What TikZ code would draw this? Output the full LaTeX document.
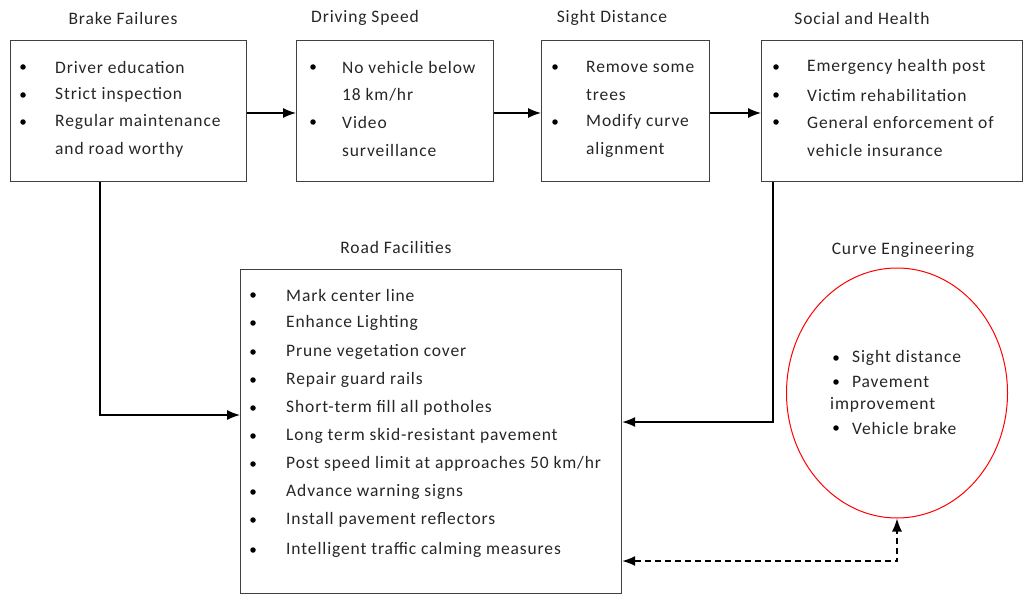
\documentclass[tikz,border=0pt]{standalone}
\usepackage{fontspec}
\setmainfont{Carlito}[LetterSpace=5]
\usetikzlibrary{arrows.meta,shapes.geometric}
\begin{document}
\begin{tikzpicture}[x=1pt,y=-1pt,
  box/.style={draw=black!75,line width=1.2pt,rectangle,inner sep=0pt,anchor=north west},
  ttl/.style={font=\fontsize{17.5}{20}\selectfont,text=black!85},
  itm/.style={font=\fontsize{17.5}{20}\selectfont,anchor=west,inner sep=0pt,text=black!85},
  bul/.style={circle,fill=black,inner sep=0pt,minimum size=5.5pt},
  conn/.style={line width=1.4pt,-{Latex[length=13pt,width=10pt]}},
  dconn/.style={line width=1.4pt,dash pattern=on 6pt off 4pt,{Latex[length=13pt,width=10pt]}-{Latex[length=13pt,width=10pt]}}]
\useasboundingbox (0,0) rectangle (1026,594);
% boxes
\node[box,minimum width=236pt,minimum height=141pt] (b1) at (10,40) {};
\node[box,minimum width=197pt,minimum height=141pt] (b2) at (296,40) {};
\node[box,minimum width=168pt,minimum height=141pt] (b3) at (541,40) {};
\node[box,minimum width=261pt,minimum height=141pt] (b4) at (761,40) {};
\node[box,minimum width=381pt,minimum height=324pt] (rf) at (240,269) {};
\node[draw=red,line width=1pt,ellipse,minimum width=221pt,minimum height=250pt] (ce) at (897,393) {};
% titles
\node[ttl] (t1) at (123,18) {Brake Failures};
\node[ttl] (t2) at (365,18) {Driving Speed};
\node[ttl] (t3) at (612,18) {Sight Distance};
\node[ttl] (t4) at (862,18) {Social and Health};
\node[ttl] (t5) at (396,247) {Road Facilities};
\node[ttl] (t6) at (903,250) {Curve Engineering};
% box 1
\foreach \yy/\tx [count=\i] in {67/Driver education,95/Strict inspection,122/Regular maintenance}{
  \node[bul] (b1b\i) at (23,\yy) {};
  \node[itm] (b1t\i) at (55,\yy) {\tx};}
\node[itm] (b1t4) at (55,150) {and road worthy};
% box 2
\node[bul] (b2b1) at (313,67) {};
\node[itm] (b2t1) at (342,67) {No vehicle below};
\node[itm] (b2t2) at (342,95) {18 km/hr};
\node[bul] (b2b2) at (313,122) {};
\node[itm] (b2t3) at (342,122) {Video};
\node[itm] (b2t4) at (342,150) {surveillance};
% box 3
\node[bul] (b3b1) at (555,67) {};
\node[itm] (b3t1) at (586,67) {Remove some};
\node[itm] (b3t2) at (586,95) {trees};
\node[bul] (b3b2) at (555,122) {};
\node[itm] (b3t3) at (586,122) {Modify curve};
\node[itm] (b3t4) at (586,150) {alignment};
% box 4
\foreach \yy/\tx [count=\i] in {67/Emergency health post,95/Victim rehabilitation,122/General enforcement of}{
  \node[bul] (b4b\i) at (776,\yy) {};
  \node[itm] (b4t\i) at (807,\yy) {\tx};}
\node[itm] (b4t4) at (807,150) {vehicle insurance};
% road facilities
\foreach \yy/\tx [count=\i] in {295/{Mark center line},323/{Enhance Lighting},352/{Prune vegetation cover},380/{Repair guard rails},408/{Short-term fill all potholes},436/{Long term skid-resistant pavement},464/{Post speed limit at approaches 50 km/hr},492/{Advance warning signs},520/{Install pavement reflectors},550/{Intelligent traffic calming measures}}{
  \node[bul] (rfb\i) at (253,\yy) {};
  \node[itm] (rft\i) at (286,\yy) {\tx};}
% curve engineering
\node[bul] (ceb1) at (836,358) {};
\node[itm] (cet1) at (852,358) {Sight distance};
\node[bul] (ceb2) at (836,382) {};
\node[itm] (cet2) at (852,382) {Pavement};
\node[itm] (cet3) at (830,405) {improvement};
\node[bul] (ceb3) at (836,428) {};
\node[itm] (cet4) at (852,428) {Vehicle brake};
% connectors
\draw[conn] (b1.east |- 0,113) -- (b2.west |- 0,113);
\draw[conn] (b2.east |- 0,113) -- (b3.west |- 0,113);
\draw[conn] (b3.east |- 0,113) -- (b4.west |- 0,113);
\draw[conn] (b1.south -| 100,0) |- (rf.west |- 0,415);
\draw[conn] (b4.south -| 773,0) |- (rf.east |- 0,422);
\draw[dconn] (rf.east |- 0,561) -| (ce.south);
\end{tikzpicture}
\end{document}
